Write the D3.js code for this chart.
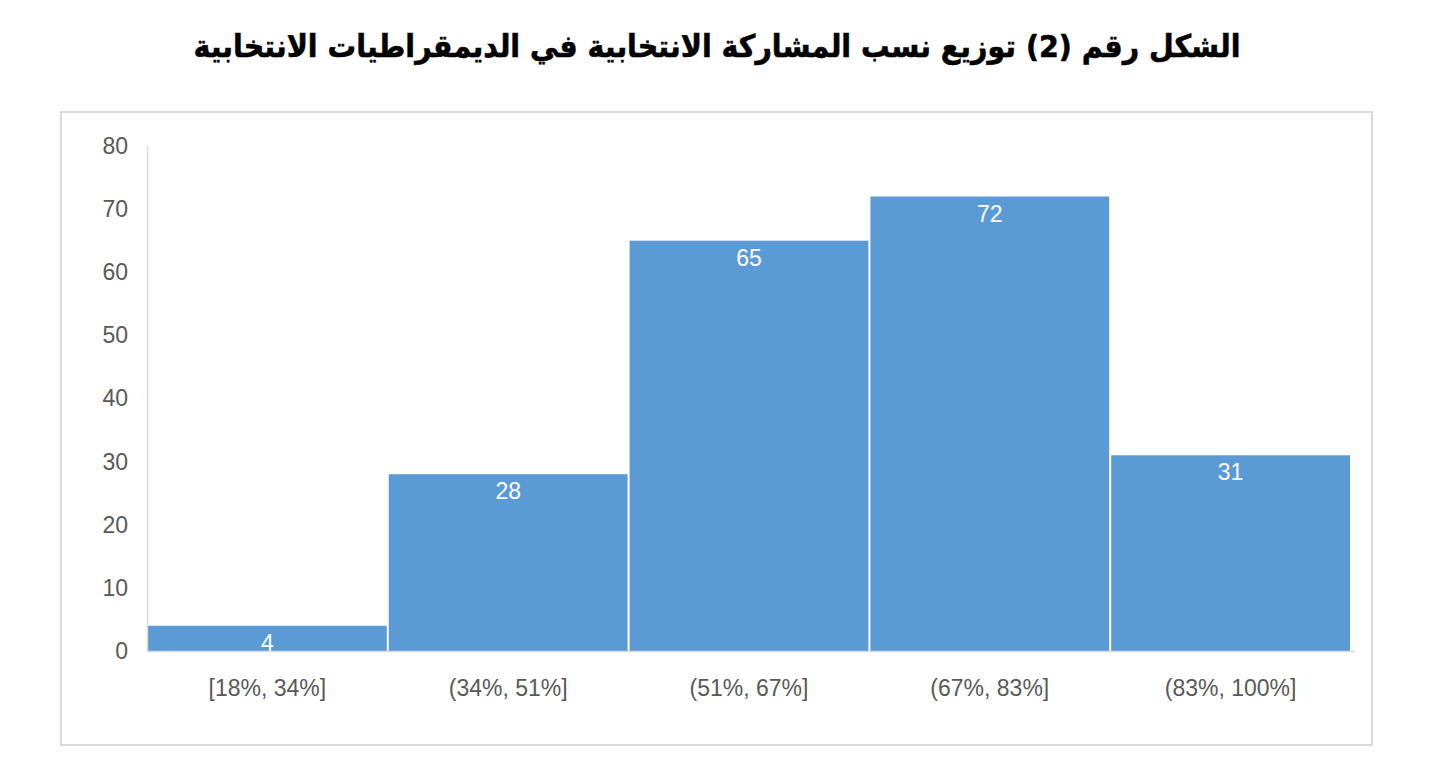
<!DOCTYPE html>
<html><head><meta charset="utf-8">
<script src="https://cdn.jsdelivr.net/npm/d3@7"></script>
<style>body{margin:0;background:#fff;} svg{display:block;}</style>
</head><body>
<svg id="chart" width="1432" height="776"></svg>
<script>
const title = "الشكل رقم (2) توزيع نسب المشاركة الانتخابية في الديمقراطيات الانتخابية";
const categories = ["[18%, 34%]", "(34%, 51%]", "(51%, 67%]", "(67%, 83%]", "(83%, 100%]"];
const counts = [4, 28, 65, 72, 31];
const yTicks = [0, 10, 20, 30, 40, 50, 60, 70, 80];

const svg = d3.select("#chart");
const m = {left:147, right:1351, top:146, bottom:651};
const font = "Liberation Sans, Arial, sans-serif";

svg.append("rect").attr("x",61).attr("y",112).attr("width",1311).attr("height",633)
  .attr("fill","#fff").attr("stroke","#d9d9d9").attr("stroke-width",2);

svg.append("g").attr("transform","translate(717,57) scale(0.92,1)")
  .append("text").attr("x",0).attr("y",0).attr("text-anchor","middle")
  .attr("font-family","DejaVu Sans, sans-serif").attr("font-weight","bold")
  .attr("font-size",31).attr("fill","#000").attr("direction","rtl")
  .attr("stroke","#000").attr("stroke-width",0.6).text(title);

const x = d3.scaleBand().domain(categories).range([m.left, m.right]).paddingInner(0).paddingOuter(0);
const y = d3.scaleLinear().domain([0,80]).range([m.bottom, m.top]);

// bars
svg.append("g").selectAll("rect").data(counts).join("rect")
  .attr("x",(d,i)=>x(categories[i])+1)
  .attr("width",x.bandwidth()-2)
  .attr("y",d=>y(d))
  .attr("height",d=>y(0)-y(d))
  .attr("fill","#5b9bd5");

// y axis
const ya = svg.append("g").attr("transform",`translate(${m.left},0)`)
  .call(d3.axisLeft(y).tickValues(yTicks).tickSize(0).tickPadding(19));
ya.select(".domain").attr("stroke","#d9d9d9").attr("stroke-width",1.5);
ya.selectAll("text").attr("font-family",font).attr("font-size",23).attr("fill","#595959");

// x axis
const xa = svg.append("g").attr("transform",`translate(0,${m.bottom})`)
  .call(d3.axisBottom(x).tickSize(0).tickPadding(29));
xa.select(".domain").attr("stroke","#d9d9d9").attr("stroke-width",1.5).attr("d",`M${m.left},0.5H${m.right+4}`);
xa.selectAll("text").attr("font-family",font).attr("font-size",23).attr("fill","#595959");

// data labels
svg.append("g").selectAll("text").data(counts).join("text")
  .attr("x",(d,i)=>x(categories[i])+x.bandwidth()/2)
  .attr("y",d=>y(d)+25)
  .attr("text-anchor","middle")
  .attr("font-family",font).attr("font-size",23).attr("fill","#fff")
  .text(d=>d);
</script>
</body></html>
